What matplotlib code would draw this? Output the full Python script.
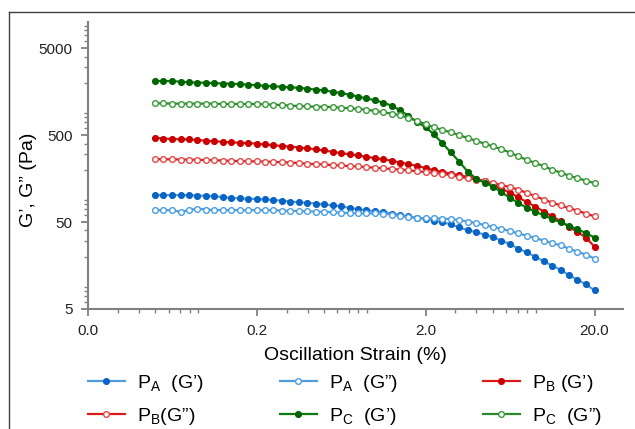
import matplotlib
matplotlib.use('Agg')
import matplotlib.pyplot as plt
from matplotlib.lines import Line2D
from matplotlib.ticker import FixedLocator, LogLocator, NullFormatter

plt.rcParams['font.family'] = ['Liberation Sans', 'DejaVu Sans']
plt.rcParams['mathtext.fontset'] = 'custom'
plt.rcParams['mathtext.rm'] = 'Liberation Sans'

# ── data ───────────────────────────────────────────────────────────────────
strain = [0.050, 0.056, 0.063, 0.071, 0.079, 0.089, 0.100, 0.112, 0.126, 0.141,
          0.158, 0.178, 0.200, 0.224, 0.251, 0.282, 0.316, 0.355, 0.398, 0.447,
          0.501, 0.562, 0.631, 0.708, 0.794, 0.891, 1.00, 1.12, 1.26, 1.41,
          1.58, 1.78, 2.00, 2.24, 2.51, 2.82, 3.16, 3.55, 3.98, 4.47,
          5.01, 5.62, 6.31, 7.08, 7.94, 8.91, 10.0, 11.2, 12.6, 14.1,
          15.8, 17.8, 20.0]

pa_g1 = [102, 102, 102, 102, 102, 101, 100, 99.5, 96.4, 94.9, 93.6, 92.9, 91.9,
         91.0, 89.8, 88.1, 86.1, 84.5, 83.4, 81.6, 79.6, 77.8, 75.5, 72.8, 70.2,
         68.5, 66.7, 64.9, 62.7, 60.1, 58.2, 56.0, 54.1, 52.0, 49.8, 46.9, 43.3,
         40.5, 38.2, 35.9, 33.4, 30.6, 27.9, 24.7, 22.4, 20.0, 17.7, 15.8, 14.1,
         12.3, 10.9, 9.6, 8.2]
pa_g2 = [68.7, 68.7, 68.7, 65.2, 68.7, 71.5, 69.6, 68.7, 68.7, 68.7, 68.7, 68.7,
         68.7, 68.7, 68.3, 67.8, 67.3, 66.9, 66.4, 65.9, 65.5, 64.9, 64.0, 63.4,
         63.1, 63.0, 63.0, 62.7, 61.0, 58.6, 57.1, 55.6, 55.2, 55.2, 54.8, 54.1,
         52.7, 50.7, 48.7, 46.2, 43.8, 41.8, 39.4, 37.0, 35.0, 32.7, 30.6, 28.7,
         26.9, 24.8, 22.8, 21.1, 19.0]
pb_g1 = [466, 457, 450, 448, 447, 440, 431, 424, 419, 413, 408, 404, 399,
         390, 382, 375, 369, 360, 352, 343, 333, 321, 311, 301, 292, 282, 272,
         263, 254, 242, 232, 221, 209, 197, 189, 180, 173, 165, 156, 148, 135,
         121, 109, 96.2, 84.9, 75.3, 66.1, 58.2, 51.3, 44.1, 38.5, 33.2, 26.0]
pb_g2 = [265, 264, 263, 262, 261, 260, 259, 257, 255, 253, 251, 250, 249,
         248, 246, 244, 242, 238, 234, 232, 230, 226, 224, 220, 218, 214, 211,
         207, 204, 201, 197, 192, 188, 184, 180, 173, 166, 160, 154, 147, 140,
         133, 126, 118, 108, 99.5, 90.8, 83.8, 77.6, 72.3, 67.9, 62.5, 58.2]
pc_g1 = [2100, 2090, 2090, 2060, 2020, 2010, 2000, 1980, 1960, 1950, 1930, 1900,
         1870, 1840, 1820, 1800, 1770, 1750, 1710, 1670, 1630, 1580, 1520, 1460,
         1390, 1320, 1260, 1180, 1090, 964, 832, 710, 614, 509, 404, 316, 248,
         190, 158, 141, 128, 110, 95.1, 82.6, 72.9, 66.0, 59.7, 54.4, 49.6, 45.3,
         41.6, 37.2, 33.2]
pc_g2 = [1160, 1160, 1150, 1150, 1150, 1150, 1150, 1150, 1140, 1140, 1140, 1140,
         1140, 1130, 1120, 1110, 1090, 1080, 1070, 1060, 1060, 1050, 1030, 1020,
         1000, 982, 948, 916, 883, 847, 787, 730, 668, 614, 574, 537, 500, 463,
         430, 398, 370, 344, 315, 285, 260, 239, 220, 200, 185, 171, 160, 150, 140]

x_ticks = [0.02, 0.2, 2, 20]
x_tick_labels = ['0.0', '0.2', '2.0', '20.0']
y_ticks = [5, 50, 500, 5000]
y_tick_labels = ['5', '50', '500', '5000']

labels = [r'P$_\mathregular{A}$  (G’)', r'P$_\mathregular{A}$  (G”)',
          r'P$_\mathregular{B}$ (G’)', r'P$_\mathregular{B}$(G”)',
          r'P$_\mathregular{C}$  (G’)', r'P$_\mathregular{C}$  (G”)']

# ── figure ─────────────────────────────────────────────────────────────────
fig = plt.figure(figsize=(6.35, 4.29), dpi=100)
ax = fig.add_axes([88/635, 1 - 309/429, (623 - 88)/635, (309 - 22)/429])

# (values, line colour, marker face, marker edge)
series = [
    (pa_g1, '#4f9de0', '#0a64c4', '#0a64c4'),
    (pa_g2, '#4f9de0', 'white',   '#4a9ee0'),
    (pb_g1, '#d81c1c', '#c80000', '#c80000'),
    (pb_g2, '#d81c1c', 'white',   '#e24848'),
    (pc_g1, '#0f7a0f', '#006400', '#006400'),
    (pc_g2, '#2a8a2a', 'white',   '#3a9a3a'),
]

handles = []
for (vals, lc, mfc, mec), lab in zip(series, labels):
    h, = ax.plot(strain, vals, '-', color=lc, lw=1.6, marker='o',
                 ms=4.1, mfc=mfc, mec=mec, mew=1.0, label=lab)
    handles.append(h)

ax.set_xscale('log')
ax.set_yscale('log')
ax.set_xlim(0.02, 29.5)
ax.set_ylim(5, 10000)

ax.xaxis.set_major_locator(FixedLocator(x_ticks))
ax.set_xticklabels(x_tick_labels)
ax.xaxis.set_minor_locator(LogLocator(base=10, subs=range(2, 10)))
ax.xaxis.set_minor_formatter(NullFormatter())
ax.yaxis.set_major_locator(FixedLocator(y_ticks))
ax.set_yticklabels(y_tick_labels)
ax.yaxis.set_minor_locator(LogLocator(base=10, subs=range(2, 10)))
ax.yaxis.set_minor_formatter(NullFormatter())

for side in ['top', 'right']:
    ax.spines[side].set_visible(False)
for side in ['left', 'bottom']:
    ax.spines[side].set_color('#808080')
    ax.spines[side].set_linewidth(1.5)

ax.tick_params(which='major', direction='out', length=5, width=1.3,
               color='#808080', labelsize=11, labelcolor='#222222', pad=6)
ax.tick_params(which='minor', direction='out', length=3, width=1.0,
               color='#808080')

ax.set_xlabel('Oscillation Strain (%)', fontsize=14, labelpad=6)
ax.set_ylabel('G’, G” (Pa)', fontsize=14)
ax.yaxis.set_label_coords(-0.095, 0.45)

# legend: three single-column blocks (row 1 / row 2 of each column)
col_x = [88, 280, 483]
for c in range(3):
    fig.legend([handles[c], handles[c + 3]], [labels[c], labels[c + 3]],
               ncol=1, loc='upper left',
               bbox_to_anchor=(col_x[c]/635, 1 - 373/429),
               frameon=False, fontsize=14, handlelength=1.9,
               handletextpad=0.6, labelspacing=0.6,
               borderpad=0, borderaxespad=0)

# outer frame of the original figure
fig.add_artist(Line2D([9/635, 1], [1 - 11.5/429, 1 - 11.5/429],
                      transform=fig.transFigure, color='#404040', lw=1))
fig.add_artist(Line2D([9/635, 9/635], [0, 1 - 11.5/429],
                      transform=fig.transFigure, color='#404040', lw=1))

fig.savefig('out.png', dpi=100)
